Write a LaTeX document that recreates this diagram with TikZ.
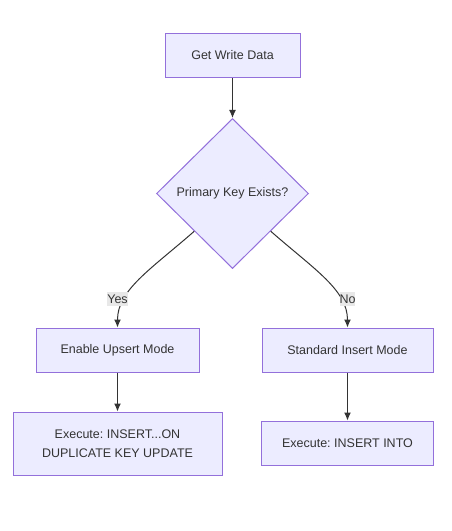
\documentclass[tikz,border=0pt]{standalone}
\usepackage{fontspec}
\setmainfont{Liberation Sans}
\usepackage{tikz}
\usetikzlibrary{arrows.meta,calc}
\usetikzlibrary{shapes.geometric}
\definecolor{boxfill}{HTML}{ECECFF}
\definecolor{boxline}{HTML}{9370DB}
\definecolor{ink}{HTML}{333333}
\definecolor{labelbg}{HTML}{E8E8E8}
\newcommand{\chartfont}{\fontsize{12.5}{19}\selectfont}
\frenchspacing

\begin{document}
\begin{tikzpicture}[x=1pt,y=-1pt]
%% node shape and color
\tikzstyle{box}=[rectangle,fill=boxfill,draw=boxline,line width=1pt,minimum height=44pt,inner sep=0pt,text=ink,font=\chartfont]
\tikzstyle{test}=[diamond,fill=boxfill,draw=boxline,line width=1pt,minimum width=152pt,minimum height=150pt,inner sep=0pt,text=ink,font=\chartfont]
\tikzstyle{elabel}=[fill=labelbg,inner xsep=0pt,inner ysep=3pt,text=ink,font=\chartfont]
\tikzstyle{flow}=[->,>={Latex[length=8pt,width=7pt]},draw=ink,line width=1pt]

\useasboundingbox (0,0) rectangle (451,531);

%% nodes
% start and decision
\node[box,minimum width=135pt] (G-get) at (232.5,55.5) {Get Write Data};
\node[test] (G-pk) at (232.5,193.5) {Primary Key Exists?};
% modes
\foreach \name/\x/\w/\txt in {upsert/117.5/163/Enable Upsert Mode,standard/347.5/171/Standard Insert Mode}
\node[box,minimum width=\w pt] (G-\name) at (\x,350) {\txt};
% statements
\node[box,minimum width=209pt,minimum height=63pt,align=center] (G-dup) at (117.5,443.5) {Execute: INSERT...ON\\DUPLICATE KEY UPDATE};
\node[box,minimum width=172pt] (G-into) at (347.5,443) {Execute: INSERT INTO};

%% arrows
% straight
\foreach \from/\to in {get/pk,upsert/dup,standard/into}
\draw[flow] (G-\from) -- (G-\to);
% branches
\draw[flow] ($(G-pk.west)!.5!(G-pk.south)$) .. controls (150,270) and (117.5,290) .. (G-upsert.north);
\draw[flow] ($(G-pk.east)!.5!(G-pk.south)$) .. controls (315,270) and (347.5,290) .. (G-standard.north);

% branch labels
\node[elabel] (yes) at (117.5,299) {Yes};
\node[elabel] (no) at (347.5,299) {No};
\end{tikzpicture}
\end{document}
